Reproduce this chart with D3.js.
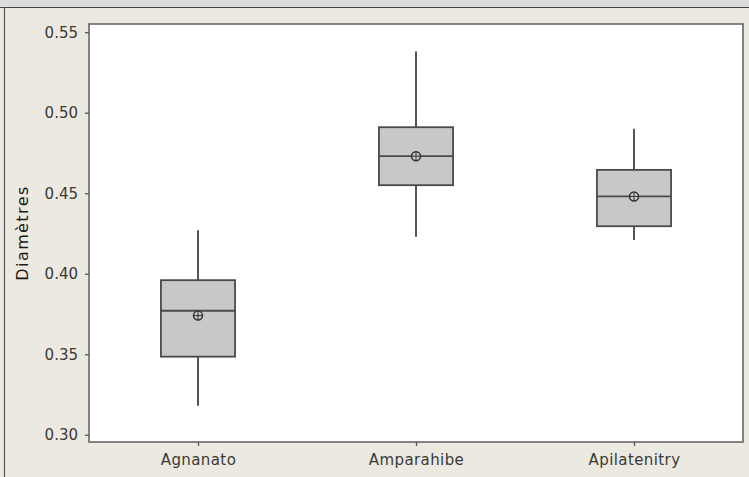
<!DOCTYPE html>
<html>
<head>
<meta charset="utf-8">
<script src="https://cdn.jsdelivr.net/npm/d3@7"></script>
<style>
  body { margin: 0; background: #ECE9E0; }
  svg { display: block; }
</style>
</head>
<body>
<div id="chart"></div>
<script>
"use strict";

// data
let categories = ["Agnanato", "Amparahibe", "Apilatenitry"];
let whiskerLow = [0.318, 0.423, 0.421];
let q1 = [0.3485, 0.455, 0.4295];
let median = [0.377, 0.473, 0.448];
let q3 = [0.396, 0.491, 0.4645];
let whiskerHigh = [0.427, 0.538, 0.490];
let means = [0.374, 0.473, 0.448];
let yTicks = [0.30, 0.35, 0.40, 0.45, 0.50, 0.55];

let width = 749;
let height = 477;
let plotL = 89, plotR = 743, plotT = 24, plotB = 442;

let svg = d3.select("#chart")
  .append("svg")
  .attr("width", width)
  .attr("height", height);

// window-ish frame
svg.append("rect").attr("x", 0).attr("y", 0).attr("width", width).attr("height", 7).attr("fill", "#DCDCDC");
svg.append("line").attr("x1", 0).attr("x2", width).attr("y1", 7.5).attr("y2", 7.5).attr("stroke", "#444").attr("stroke-width", 1.2);
svg.append("line").attr("x1", 4.5).attr("x2", 4.5).attr("y1", 7).attr("y2", height).attr("stroke", "#555").attr("stroke-width", 1.2);

let x = d3.scalePoint()
  .domain(categories)
  .range([plotL, plotR])
  .padding(0.5);

let y = d3.scaleLinear()
  .domain([0.2955, 0.5551])
  .range([plotB, plotT]);

let boxW = x.step() * 0.34;

svg.append("rect")
  .attr("x", plotL).attr("y", plotT)
  .attr("width", plotR - plotL).attr("height", plotB - plotT)
  .attr("fill", "white")
  .attr("stroke", "#666")
  .attr("stroke-width", 1.6);

// axes
let yAxis = svg.append("g")
  .attr("transform", `translate(${plotL}, 0)`)
  .call(d3.axisLeft(y).tickValues(yTicks).tickSize(4).tickPadding(7).tickFormat(d3.format(".2f")));

let xAxis = svg.append("g")
  .attr("transform", `translate(0, ${plotB})`)
  .call(d3.axisBottom(x).tickSize(4).tickPadding(8));

[yAxis, xAxis].forEach(g => {
  g.select(".domain").remove();
  g.selectAll("line").attr("stroke", "#555").attr("stroke-width", 1.3);
  g.selectAll("text")
    .attr("fill", "#3a3a3a")
    .style("font-family", "DejaVu Sans, Verdana, sans-serif")
    .style("font-size", "15px");
});
xAxis.selectAll("text").style("letter-spacing", "0.4px");

// y label
svg.append("text")
  .attr("transform", `translate(28, ${(plotT + plotB) / 2}) rotate(-90)`)
  .attr("text-anchor", "middle")
  .attr("fill", "#1a1a1a")
  .style("font-family", "DejaVu Sans, Verdana, sans-serif")
  .style("font-size", "16px")
  .style("letter-spacing", "1.4px")
  .text("Diamètres");

// boxes
let boxes = svg.selectAll("g.box")
  .data(categories)
  .enter()
  .append("g")
  .attr("class", "box");

boxes.append("line")
  .attr("x1", d => x(d)).attr("x2", d => x(d))
  .attr("y1", (d, i) => y(whiskerHigh[i]))
  .attr("y2", (d, i) => y(q3[i]))
  .attr("stroke", "#555").attr("stroke-width", 2);

boxes.append("line")
  .attr("x1", d => x(d)).attr("x2", d => x(d))
  .attr("y1", (d, i) => y(q1[i]))
  .attr("y2", (d, i) => y(whiskerLow[i]))
  .attr("stroke", "#555").attr("stroke-width", 2);

boxes.append("rect")
  .attr("x", d => x(d) - boxW / 2)
  .attr("y", (d, i) => y(q3[i]))
  .attr("width", boxW)
  .attr("height", (d, i) => y(q1[i]) - y(q3[i]))
  .attr("fill", "#C8C8C8")
  .attr("stroke", "#4a4a4a")
  .attr("stroke-width", 1.8);

boxes.append("line")
  .attr("x1", d => x(d) - boxW / 2).attr("x2", d => x(d) + boxW / 2)
  .attr("y1", (d, i) => y(median[i]))
  .attr("y2", (d, i) => y(median[i]))
  .attr("stroke", "#4a4a4a").attr("stroke-width", 1.8);

// mean symbol: circle with crosshair
boxes.append("circle")
  .attr("cx", d => x(d))
  .attr("cy", (d, i) => y(means[i]))
  .attr("r", 4.5)
  .attr("fill", "#C8C8C8")
  .attr("stroke", "#333")
  .attr("stroke-width", 1.5);

boxes.append("path")
  .attr("d", (d, i) => {
    let cx = x(d), cy = y(means[i]);
    return `M${cx - 4.5},${cy}H${cx + 4.5}M${cx},${cy - 4.5}V${cy + 4.5}`;
  })
  .attr("stroke", "#333")
  .attr("stroke-width", 1);
</script>
</body>
</html>
